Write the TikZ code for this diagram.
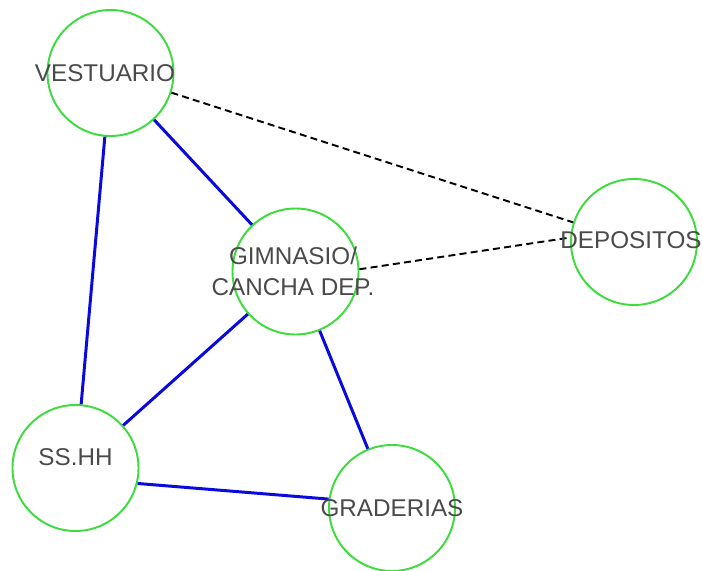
\documentclass[tikz,border=0pt]{standalone}
\usepackage{fontspec}
\setmainfont{Liberation Sans}
\definecolor{roomgreen}{HTML}{3CDC3C}
\definecolor{linkblue}{HTML}{0A0ADC}
\definecolor{labelgray}{HTML}{4A4A4A}
\tikzset{
  room/.style={circle, draw=roomgreen, line width=1.1pt, fill=white,
    minimum size=2.52cm, inner sep=0pt},
  roomtext/.style={font=\fontsize{13.8}{18}\selectfont, text=labelgray, align=center, inner sep=0pt},
  direct/.style={draw=linkblue, line width=1.7pt},
  indirect/.style={draw=black, line width=1.1pt, dash pattern=on 4pt off 2.4pt}
}
\begin{document}
\begin{tikzpicture}
\useasboundingbox (0,0) rectangle (14.06,11.4);
% rooms
\node[room] (vest) at (2.21,9.94) {};
\node[room] (gim) at (5.91,5.97) {};
\node[room] (dep) at (12.68,6.56) {};
\node[room] (ss) at (1.51,2.04) {};
\node[room] (grad) at (7.84,1.24) {};
% direct links
\draw[direct] (vest) -- (gim);
\draw[direct] (vest) -- (ss);
\draw[direct] (gim) -- (ss);
\draw[direct] (gim) -- (grad);
\draw[direct] (ss.-14) -- (grad.172);
% indirect links
\draw[indirect] (vest) -- (dep);
\draw[indirect] (gim.2) -- (dep.176);
% labels
\node[roomtext, xshift=-0.11cm] (vesttxt) at (vest) {VESTUARIO};
\node[roomtext, xshift=-0.05cm] (gimtxt) at (gim) {GIMNASIO/\\CANCHA DEP.};
\node[roomtext, xshift=-0.06cm, yshift=0.04cm] (deptxt) at (dep) {DEPOSITOS};
\node[roomtext, yshift=0.22cm] (sstxt) at (ss) {SS.HH};
\node[roomtext] (gradtxt) at (grad) {GRADERIAS};
\end{tikzpicture}
\end{document}
